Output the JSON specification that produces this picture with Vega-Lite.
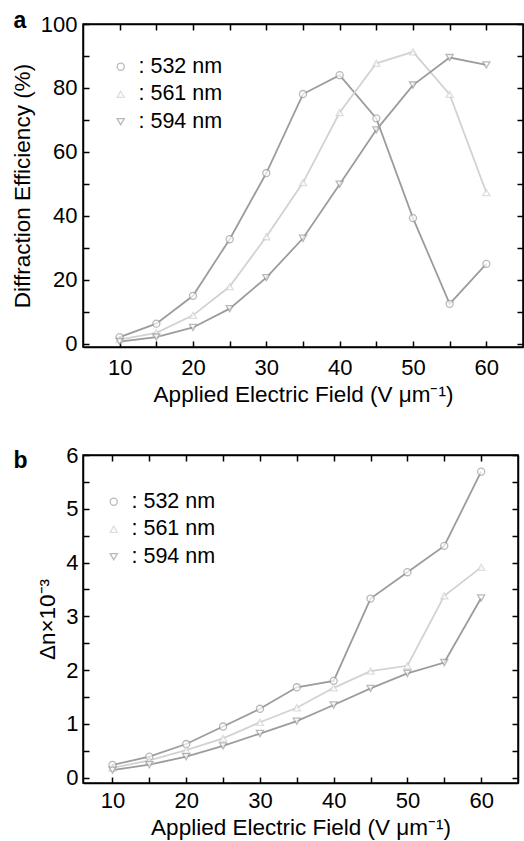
{
  "$schema": "https://vega.github.io/schema/vega-lite/v6.json",
  "padding": {"left": 10, "top": 8, "right": 0, "bottom": 0},
  "background": "white",
  "datasets": {
    "d": [
      {"E": 10, "wl": "532 nm", "DE": 2.1, "dn": 0.235},
      {"E": 15, "wl": "532 nm", "DE": 6.3, "dn": 0.39},
      {"E": 20, "wl": "532 nm", "DE": 15.0, "dn": 0.625},
      {"E": 25, "wl": "532 nm", "DE": 32.7, "dn": 0.95},
      {"E": 30, "wl": "532 nm", "DE": 53.4, "dn": 1.28},
      {"E": 35, "wl": "532 nm", "DE": 78.1, "dn": 1.68},
      {"E": 40, "wl": "532 nm", "DE": 84.0, "dn": 1.80},
      {"E": 45, "wl": "532 nm", "DE": 70.5, "dn": 3.33},
      {"E": 50, "wl": "532 nm", "DE": 39.3, "dn": 3.82},
      {"E": 55, "wl": "532 nm", "DE": 12.5, "dn": 4.31},
      {"E": 60, "wl": "532 nm", "DE": 25.0, "dn": 5.69},
      {"E": 10, "wl": "561 nm", "DE": 1.3, "dn": 0.18},
      {"E": 15, "wl": "561 nm", "DE": 3.4, "dn": 0.32},
      {"E": 20, "wl": "561 nm", "DE": 8.9, "dn": 0.51},
      {"E": 25, "wl": "561 nm", "DE": 17.9, "dn": 0.73},
      {"E": 30, "wl": "561 nm", "DE": 33.5, "dn": 1.03},
      {"E": 35, "wl": "561 nm", "DE": 50.4, "dn": 1.30},
      {"E": 40, "wl": "561 nm", "DE": 72.3, "dn": 1.67},
      {"E": 45, "wl": "561 nm", "DE": 87.7, "dn": 1.98},
      {"E": 50, "wl": "561 nm", "DE": 91.3, "dn": 2.08},
      {"E": 55, "wl": "561 nm", "DE": 78.0, "dn": 3.38},
      {"E": 60, "wl": "561 nm", "DE": 47.3, "dn": 3.91},
      {"E": 10, "wl": "594 nm", "DE": 0.7, "dn": 0.14},
      {"E": 15, "wl": "594 nm", "DE": 2.1, "dn": 0.24},
      {"E": 20, "wl": "594 nm", "DE": 5.1, "dn": 0.39},
      {"E": 25, "wl": "594 nm", "DE": 11.0, "dn": 0.59},
      {"E": 30, "wl": "594 nm", "DE": 20.7, "dn": 0.82},
      {"E": 35, "wl": "594 nm", "DE": 33.0, "dn": 1.05},
      {"E": 40, "wl": "594 nm", "DE": 49.9, "dn": 1.35},
      {"E": 45, "wl": "594 nm", "DE": 66.9, "dn": 1.66},
      {"E": 50, "wl": "594 nm", "DE": 80.9, "dn": 1.94},
      {"E": 55, "wl": "594 nm", "DE": 89.5, "dn": 2.14},
      {"E": 60, "wl": "594 nm", "DE": 87.2, "dn": 3.34}
    ]
  },
  "data": {"name": "d"},
  "config": {
    "font": "Liberation Sans",
    "view": {"stroke": "black", "strokeWidth": 1.5},
    "axis": {
      "grid": false,
      "ticks": true,
      "labelFont": "Liberation Sans",
      "labelFontSize": 22,
      "labelColor": "black",
      "titleFont": "Liberation Sans",
      "titleFontSize": 22.5,
      "titleFontWeight": "normal",
      "titleColor": "black",
      "domainColor": "black",
      "domainWidth": 1.5,
      "tickColor": "black",
      "tickWidth": 1.5,
      "tickSize": -6
    },
    "legend": {
      "labelFont": "Liberation Sans",
      "labelFontSize": 21.5,
      "labelColor": "black",
      "symbolSize": 50,
      "symbolStrokeWidth": 1.3,
      "rowPadding": 4.5,
      "labelOffset": 7,
      "padding": 0
    }
  },
  "resolve": {"scale": {"color": "independent", "shape": "independent", "stroke": "independent"}},
  "columns": 1,
  "align": "none",
  "spacing": 36,
  "concat": [
    {
      "width": 440,
      "height": 323,
      "layer": [
        {
          "mark": {"type": "line", "strokeWidth": 1.8},
          "encoding": {
            "x": {"field": "E", "type": "quantitative", "scale": {"domain": [5, 65], "nice": false, "zero": false},
                  "axis": {"orient": "bottom", "values": [10, 15, 20, 25, 30, 35, 40, 45, 50, 55, 60], "ticks": true, "tickSize": -6,
                           "labelExpr": "datum.value % 10 === 0 ? datum.label : ''",
                           "labelPadding": 16, "title": "Applied Electric Field (V μm⁻¹)", "titlePadding": 5}},
            "y": {"field": "DE", "type": "quantitative", "scale": {"domain": [-1, 100], "nice": false, "zero": false},
                  "axis": {"orient": "left", "values": [0, 10, 20, 30, 40, 50, 60, 70, 80, 90, 100], "ticks": true, "tickSize": -6,
                           "labelExpr": "datum.value % 20 === 0 ? datum.label : ''",
                           "labelPadding": 12, "title": "Diffraction Efficiency (%)", "titlePadding": 6}},
            "stroke": {"field": "wl", "type": "nominal", "scale": {"domain": ["532 nm", "594 nm", "561 nm"], "range": ["#9c9c9c", "#9c9c9c", "#d2d2d2"]}, "legend": null}
          }
        },
        {
          "mark": {"type": "point", "filled": false, "fill": "white", "strokeWidth": 1.3, "size": 50},
          "encoding": {
            "x": {"field": "E", "type": "quantitative",
                  "axis": {"orient": "top", "values": [10, 15, 20, 25, 30, 35, 40, 45, 50, 55, 60], "ticks": true, "tickSize": -6, "labels": false,
                           "title": "a", "titleAngle": 0, "titleX": -70, "titleY": 3, "titleAlign": "left", "titleBaseline": "alphabetic", "titleFontWeight": "bold", "titleFontSize": 23}},
            "y": {"field": "DE", "type": "quantitative",
                  "axis": {"orient": "right", "values": [0, 10, 20, 30, 40, 50, 60, 70, 80, 90, 100], "ticks": true, "tickSize": -6, "labels": false, "title": null}},
            "color": {"field": "wl", "type": "nominal", "scale": {"domain": ["532 nm", "561 nm", "594 nm"], "range": ["#9c9c9c", "#d2d2d2", "#9c9c9c"]},
                      "legend": {"title": null, "orient": "none", "legendX": 27, "legendY": 32, "labelExpr": "': ' + datum.label"}},
            "shape": {"field": "wl", "type": "nominal", "scale": {"domain": ["532 nm", "561 nm", "594 nm"], "range": ["circle", "triangle-up", "triangle-down"]},
                      "legend": {"title": null, "orient": "none", "legendX": 27, "legendY": 32, "labelExpr": "': ' + datum.label"}}
          }
        }
      ],
      "resolve": {"axis": {"x": "independent", "y": "independent"}}
    },
    {
      "width": 435,
      "height": 328,
      "layer": [
        {
          "mark": {"type": "line", "strokeWidth": 1.8},
          "encoding": {
            "x": {"field": "E", "type": "quantitative", "scale": {"domain": [6, 65], "nice": false, "zero": false},
                  "axis": {"orient": "bottom", "values": [10, 15, 20, 25, 30, 35, 40, 45, 50, 55, 60], "ticks": true, "tickSize": -6,
                           "labelExpr": "datum.value % 10 === 0 ? datum.label : ''",
                           "labelPadding": 13, "title": "Applied Electric Field (V μm⁻¹)", "titlePadding": 5}},
            "y": {"field": "dn", "type": "quantitative", "scale": {"domain": [-0.1, 6], "nice": false, "zero": false},
                  "axis": {"orient": "left", "values": [0, 0.5, 1, 1.5, 2, 2.5, 3, 3.5, 4, 4.5, 5, 5.5, 6], "ticks": true, "tickSize": -6,
                           "labelExpr": "datum.value % 1 === 0 ? format(datum.value, 'd') : ''",
                           "labelPadding": 11, "title": "Δn×10⁻³", "titlePadding": 6}},
            "stroke": {"field": "wl", "type": "nominal", "scale": {"domain": ["532 nm", "594 nm", "561 nm"], "range": ["#9c9c9c", "#9c9c9c", "#d2d2d2"]}, "legend": null}
          }
        },
        {
          "mark": {"type": "point", "filled": false, "fill": "white", "strokeWidth": 1.3, "size": 50},
          "encoding": {
            "x": {"field": "E", "type": "quantitative",
                  "axis": {"orient": "top", "values": [10, 15, 20, 25, 30, 35, 40, 45, 50, 55, 60], "ticks": true, "tickSize": -6, "labels": false,
                           "title": "b", "titleAngle": 0, "titleX": -70, "titleY": 12, "titleAlign": "left", "titleBaseline": "alphabetic", "titleFontWeight": "bold", "titleFontSize": 23}},
            "y": {"field": "dn", "type": "quantitative",
                  "axis": {"orient": "right", "values": [0, 0.5, 1, 1.5, 2, 2.5, 3, 3.5, 4, 4.5, 5, 5.5, 6], "ticks": true, "tickSize": -6, "labels": false, "title": null}},
            "color": {"field": "wl", "type": "nominal", "scale": {"domain": ["532 nm", "561 nm", "594 nm"], "range": ["#9c9c9c", "#d2d2d2", "#9c9c9c"]},
                      "legend": {"title": null, "orient": "none", "legendX": 20, "legendY": 36, "labelExpr": "': ' + datum.label"}},
            "shape": {"field": "wl", "type": "nominal", "scale": {"domain": ["532 nm", "561 nm", "594 nm"], "range": ["circle", "triangle-up", "triangle-down"]},
                      "legend": {"title": null, "orient": "none", "legendX": 20, "legendY": 36, "labelExpr": "': ' + datum.label"}}
          }
        }
      ],
      "resolve": {"axis": {"x": "independent", "y": "independent"}}
    }
  ]
}
